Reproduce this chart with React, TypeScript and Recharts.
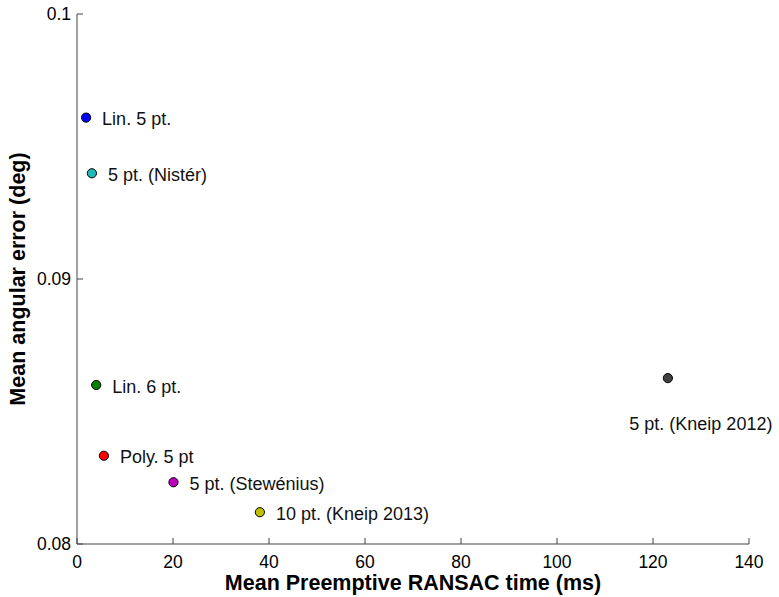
import React from "react"
import { Cell, Label, Scatter, ScatterChart, XAxis, YAxis } from "recharts"

const methods = [
  "Lin. 5 pt.",
  "5 pt. (Nistér)",
  "Lin. 6 pt.",
  "Poly. 5 pt",
  "5 pt. (Stewénius)",
  "10 pt. (Kneip 2013)",
  "5 pt. (Kneip 2012)",
]
const timesMs = [1.9, 3.1, 4.0, 5.6, 20.1, 38.1, 123.1]
const angularErrors = [0.09609, 0.09399, 0.0860, 0.08333, 0.08233, 0.0812, 0.08626]
const colors = ["#0000ff", "#1fb8b8", "#008000", "#ff0000", "#bf00bf", "#bfbf00", "#404040"]

const xTicks = [0, 20, 40, 60, 80, 100, 120, 140]
const yTicks = [0.08, 0.09, 0.1]

// labels drawn under the point instead of to the right
const labelsBelow = ["5 pt. (Kneip 2012)"]

const data = methods.map((name, i) => ({
  name,
  time: timesMs[i],
  error: angularErrors[i],
}))

const FONT = "'Liberation Sans', Arial, Helvetica, sans-serif"
const AXIS = "#444444"

function PointShape(props: any) {
  const { cx, cy, fill, payload } = props
  const below = labelsBelow.includes(payload.name)
  return (
    <g>
      <circle cx={cx} cy={cy} r={4.6} fill={fill} stroke="#000" strokeWidth={1} />
      <text
        x={below ? cx + 33 : cx + 16}
        y={below ? cy + 52 : cy}
        dy={below ? 0 : "0.42em"}
        textAnchor={below ? "middle" : "start"}
        fontFamily={FONT}
        fontSize={18}
        fill="#111"
      >
        {payload.name}
      </text>
    </g>
  )
}

function YTitle(props: any) {
  const vb = props.viewBox || { x: 0, y: 14, width: 77, height: 530 }
  const cx = vb.x + 18
  const cy = vb.y + vb.height / 2
  return (
    <text
      x={cx}
      y={cy}
      transform={`rotate(-90 ${cx} ${cy})`}
      textAnchor="middle"
      dominantBaseline="central"
      fontFamily={FONT}
      fontSize={21.5}
      fontWeight="bold"
      fill="#000"
    >
      Mean angular error (deg)
    </text>
  )
}

export default function App() {
  return (
    <div style={{ position: "absolute", left: 0, top: 0, width: 779, height: 597, background: "#fff" }}>
      <ScatterChart width={779} height={597} margin={{ top: 14, right: 30, bottom: 0, left: 0 }}>
        <XAxis
          type="number"
          dataKey="time"
          domain={[0, 140]}
          ticks={xTicks}
          height={53}
          stroke={AXIS}
          tickSize={-6}
          tickMargin={18}
          tick={{ fill: "#000", fontSize: 17.5, fontFamily: FONT }}
        >
          <Label
            value="Mean Preemptive RANSAC time (ms)"
            position="insideBottom"
            offset={7}
            style={{ fontFamily: FONT, fontSize: 21.5, fontWeight: "bold", fill: "#000" }}
          />
        </XAxis>
        <YAxis
          type="number"
          dataKey="error"
          domain={[0.08, 0.1]}
          ticks={yTicks}
          width={77}
          stroke={AXIS}
          tickSize={-6}
          tickMargin={12}
          tickFormatter={(v: number) => String(Number(v.toFixed(2)))}
          tick={{ fill: "#000", fontSize: 17.5, fontFamily: FONT }}
        >
          <Label content={<YTitle />} />
        </YAxis>
        <Scatter data={data} shape={<PointShape />} isAnimationActive={false}>
          {data.map((d, i) => (
            <Cell key={d.name} fill={colors[i]} />
          ))}
        </Scatter>
      </ScatterChart>
    </div>
  )
}
